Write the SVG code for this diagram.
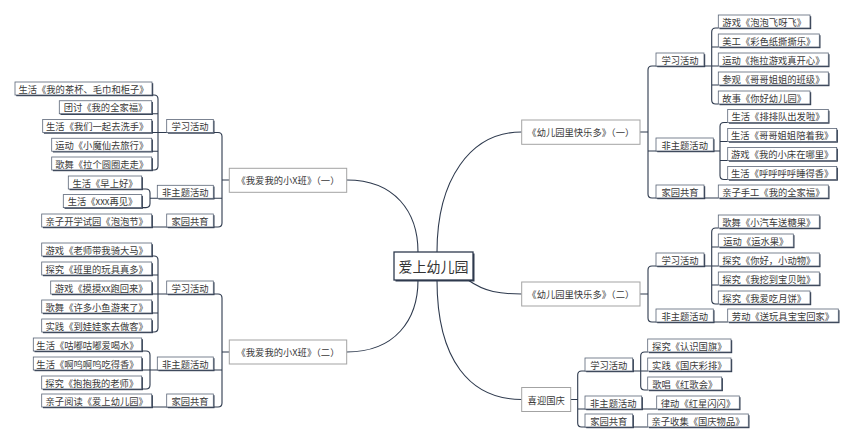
<svg xmlns="http://www.w3.org/2000/svg" width="854" height="443" viewBox="0 0 854 443">
<style>
.sh{fill:#2e3a4e}
.bx{fill:#fff;stroke:#5b6577;stroke-width:0.8}
.mn{fill:#fff;stroke:#a3a3a3;stroke-width:1}
.t{font-family:"Noto Sans CJK SC","Noto Sans",sans-serif;font-size:9.3px;fill:#3a3a3a;text-anchor:middle;dominant-baseline:central}
.rt{font-family:"Noto Sans CJK SC","Noto Sans",sans-serif;font-size:14px;fill:#333;text-anchor:middle;dominant-baseline:central}
.c{fill:none;stroke:#2e3a4e;stroke-width:1.1}
</style>
<rect width="854" height="443" fill="#fff"/>
<g id="connectors" class="c">
<path d="M346.7,180 C395,180 418,212 418,252"/>
<path d="M346.7,352 C395,352 418,320 418,280"/>
<path d="M437,252 C437,180 470,132 521.7,132"/>
<path d="M468,280 C485,292 500,294 521.7,294"/>
<path d="M437,280 C437,360 470,399.5 521.7,399.5"/>
<path d="M152,95 H154 Q158,95 158,99 V166 Q158,170 154,170 H152 M152,113.75 H158 M152,132.5 H158 M152,151.25 H158"/>
<path d="M141.7,189 H146 Q150,189 150,193 V203.6 Q150,207.6 146,207.6 H141.7"/>
<path d="M158,132.5 H218 Q222,132.5 222,136.5 V223 Q222,227 218,227 H151.7 M150,198.3 H222 M222,180 H229.3"/>
<path d="M151.7,256 H154 Q158,256 158,260 V328 Q158,332 154,332 H151.7 M151.7,275 H158 M151.7,294 H158 M151.7,313 H158"/>
<path d="M141.7,351 H146 Q150,351 150,355 V385 Q150,389 146,389 H141.7 M141.7,370 H150"/>
<path d="M158,294 H218 Q222,294 222,298 V403 Q222,407 218,407 H151.7 M150,370 H222 M222,352 H229.3"/>
<path d="M718.3,28 H715.7 Q711.7,28 711.7,32 V100 Q711.7,104 715.7,104 H718.3 M711.7,47 H718.3 M711.7,66 H718.3 M711.7,85 H718.3"/>
<path d="M727.7,122.5 H724 Q720,122.5 720,126.5 V175.5 Q720,179.5 724,179.5 H727.7 M720,141.5 H727.7 M720,160.5 H727.7"/>
<path d="M711.7,66 H652 Q648,66 648,70 V194 Q648,198 652,198 H718.3 M648,151 H720 M640,132 H648"/>
<path d="M718.3,228 H715.7 Q711.7,228 711.7,232 V300 Q711.7,304 715.7,304 H718.3 M711.7,247 H718.3 M711.7,266 H718.3 M711.7,285 H718.3"/>
<path d="M711.7,266 H652 Q648,266 648,270 V318 Q648,322 652,322 H727.7 M640,294 H648"/>
<path d="M647.7,352 H644.7 Q640.7,352 640.7,356 V386 Q640.7,390 644.7,390 H647.7 M640.7,371 H647.7"/>
<path d="M640.7,371 H581.7 Q577.7,371 577.7,375 V423 Q577.7,427 581.7,427 H647.7 M577.7,409 H656.7 M570.7,399.5 H577.7"/>
</g>
<g id="root"><rect class="sh" x="395.5" y="253.5" width="79" height="28"/><rect x="394" y="252" width="79" height="28" fill="#fff" stroke="#2e3a4e" stroke-width="1.3"/><text class="rt" x="433.5" y="266">爱上幼儿园</text></g>
<g id="m1"><rect class="mn" x="229.3" y="168.3" width="117.4" height="24"/><text class="t" x="288" y="180.3">《我爱我的小X班》（一）</text></g>
<g id="m2"><rect class="mn" x="229.3" y="340" width="117.4" height="24"/><text class="t" x="288" y="352">《我爱我的小X班》（二）</text></g>
<g id="m3"><rect class="mn" x="521.7" y="120" width="118.3" height="24.3"/><text class="t" x="580.8" y="132.2">《幼儿园里快乐多》（一）</text></g>
<g id="m4"><rect class="mn" x="521.7" y="282" width="118.3" height="24"/><text class="t" x="580.8" y="294">《幼儿园里快乐多》（二）</text></g>
<g id="m5"><rect class="mn" x="521.7" y="387.5" width="49" height="24"/><text class="t" x="546.2" y="399.5">喜迎国庆</text></g>

<g id="l1a"><rect class="sh" x="16.2" y="83.2" width="137" height="13"/><rect class="bx" x="15" y="82" width="137" height="13"/><text class="t" x="83.5" y="88.5">生活《我的茶杯、毛巾和柜子》</text></g>
<g id="l1b"><rect class="sh" x="60.5" y="101.95" width="92.4" height="13"/><rect class="bx" x="59.3" y="100.75" width="92.4" height="13"/><text class="t" x="105.5" y="107.25">团讨《我的全家福》</text></g>
<g id="l1c"><rect class="sh" x="43.9" y="120.7" width="109" height="13"/><rect class="bx" x="42.7" y="119.5" width="109" height="13"/><text class="t" x="97.2" y="126">生活《我们一起去洗手》</text></g>
<g id="l1d"><rect class="sh" x="52.9" y="139.45" width="100" height="13"/><rect class="bx" x="51.7" y="138.25" width="100" height="13"/><text class="t" x="101.7" y="144.75">运动《小魔仙去旅行》</text></g>
<g id="l1e"><rect class="sh" x="52.9" y="158.2" width="100" height="13"/><rect class="bx" x="51.7" y="157" width="100" height="13"/><text class="t" x="101.7" y="163.5">歌舞《拉个圆圈走走》</text></g>
<g id="l1s"><rect class="sh" x="167.9" y="120.7" width="46.6" height="13"/><rect class="bx" x="166.7" y="119.5" width="46.6" height="13"/><text class="t" x="190" y="126">学习活动</text></g>
<g id="l1f"><rect class="sh" x="69.5" y="177.2" width="73.4" height="13"/><rect class="bx" x="68.3" y="176" width="73.4" height="13"/><text class="t" x="105" y="182.5">生活《早上好》</text></g>
<g id="l1g"><rect class="sh" x="64.5" y="195.8" width="78.4" height="13"/><rect class="bx" x="63.3" y="194.6" width="78.4" height="13"/><text class="t" x="102.5" y="201.1">生活《xxx再见》</text></g>
<g id="l1n"><rect class="sh" x="158.5" y="186.5" width="56" height="13"/><rect class="bx" x="157.3" y="185.3" width="56" height="13"/><text class="t" x="185.3" y="191.8">非主题活动</text></g>
<g id="l1h"><rect class="sh" x="42.9" y="215.2" width="110" height="13"/><rect class="bx" x="41.7" y="214" width="110" height="13"/><text class="t" x="96.7" y="220.5">亲子开学试园《泡泡节》</text></g>
<g id="l1j"><rect class="sh" x="167.9" y="215.2" width="46.6" height="13"/><rect class="bx" x="166.7" y="214" width="46.6" height="13"/><text class="t" x="190" y="220.5">家园共育</text></g>

<g id="l2a"><rect class="sh" x="42.9" y="244.2" width="110" height="13"/><rect class="bx" x="41.7" y="243" width="110" height="13"/><text class="t" x="96.7" y="249.5">游戏《老师带我骑大马》</text></g>
<g id="l2b"><rect class="sh" x="42.9" y="263.2" width="110" height="13"/><rect class="bx" x="41.7" y="262" width="110" height="13"/><text class="t" x="96.7" y="268.5">探究《班里的玩具真多》</text></g>
<g id="l2c"><rect class="sh" x="51.9" y="282.2" width="101" height="13"/><rect class="bx" x="50.7" y="281" width="101" height="13"/><text class="t" x="101.2" y="287.5">游戏《摸摸xx跑回来》</text></g>
<g id="l2d"><rect class="sh" x="42.9" y="301.2" width="110" height="13"/><rect class="bx" x="41.7" y="300" width="110" height="13"/><text class="t" x="96.7" y="306.5">歌舞《许多小鱼游来了》</text></g>
<g id="l2e"><rect class="sh" x="42.9" y="320.2" width="110" height="13"/><rect class="bx" x="41.7" y="319" width="110" height="13"/><text class="t" x="96.7" y="325.5">实践《到娃娃家去做客》</text></g>
<g id="l2s"><rect class="sh" x="167.9" y="282.2" width="46.6" height="13"/><rect class="bx" x="166.7" y="281" width="46.6" height="13"/><text class="t" x="190" y="287.5">学习活动</text></g>
<g id="l2f"><rect class="sh" x="34.5" y="339.2" width="108.4" height="13"/><rect class="bx" x="33.3" y="338" width="108.4" height="13"/><text class="t" x="87.5" y="344.5">生活《咕嘟咕嘟爱喝水》</text></g>
<g id="l2g"><rect class="sh" x="34.5" y="358.2" width="108.4" height="13"/><rect class="bx" x="33.3" y="357" width="108.4" height="13"/><text class="t" x="87.5" y="363.5">生活《啊呜啊呜吃得香》</text></g>
<g id="l2h"><rect class="sh" x="42.9" y="377.2" width="100" height="13"/><rect class="bx" x="41.7" y="376" width="100" height="13"/><text class="t" x="91.7" y="382.5">探究《抱抱我的老师》</text></g>
<g id="l2n"><rect class="sh" x="158.5" y="358.2" width="56" height="13"/><rect class="bx" x="157.3" y="357" width="56" height="13"/><text class="t" x="185.3" y="363.5">非主题活动</text></g>
<g id="l2i"><rect class="sh" x="42.9" y="395.2" width="110" height="13"/><rect class="bx" x="41.7" y="394" width="110" height="13"/><text class="t" x="96.7" y="400.5">亲子阅读《爱上幼儿园》</text></g>
<g id="l2j"><rect class="sh" x="167.9" y="395.2" width="46.6" height="13"/><rect class="bx" x="166.7" y="394" width="46.6" height="13"/><text class="t" x="190" y="400.5">家园共育</text></g>

<g id="r1a"><rect class="sh" x="719.5" y="16.2" width="91.7" height="13"/><rect class="bx" x="718.3" y="15" width="91.7" height="13"/><text class="t" x="764.2" y="21.5">游戏《泡泡飞呀飞》</text></g>
<g id="r1b"><rect class="sh" x="719.5" y="35.2" width="101" height="13"/><rect class="bx" x="718.3" y="34" width="101" height="13"/><text class="t" x="768.8" y="40.5">美工《彩色纸撕撕乐》</text></g>
<g id="r1c"><rect class="sh" x="719.5" y="54.2" width="110" height="13"/><rect class="bx" x="718.3" y="53" width="110" height="13"/><text class="t" x="773.3" y="59.5">运动《拖拉游戏真开心》</text></g>
<g id="r1d"><rect class="sh" x="719.5" y="73.2" width="110" height="13"/><rect class="bx" x="718.3" y="72" width="110" height="13"/><text class="t" x="773.3" y="78.5">参观《哥哥姐姐的班级》</text></g>
<g id="r1e"><rect class="sh" x="719.5" y="92.2" width="91.7" height="13"/><rect class="bx" x="718.3" y="91" width="91.7" height="13"/><text class="t" x="764.2" y="97.5">故事《你好幼儿园》</text></g>
<g id="r1s"><rect class="sh" x="657.2" y="54.2" width="48" height="13"/><rect class="bx" x="656" y="53" width="48" height="13"/><text class="t" x="680" y="59.5">学习活动</text></g>
<g id="r1f"><rect class="sh" x="728.9" y="110.7" width="100.6" height="13"/><rect class="bx" x="727.7" y="109.5" width="100.6" height="13"/><text class="t" x="778" y="116">生活《排排队出发啦》</text></g>
<g id="r1g"><rect class="sh" x="728.9" y="129.7" width="109" height="13"/><rect class="bx" x="727.7" y="128.5" width="109" height="13"/><text class="t" x="782.2" y="135">生活《哥哥姐姐陪着我》</text></g>
<g id="r1h"><rect class="sh" x="728.9" y="148.7" width="109" height="13"/><rect class="bx" x="727.7" y="147.5" width="109" height="13"/><text class="t" x="782.2" y="154">游戏《我的小床在哪里》</text></g>
<g id="r1i"><rect class="sh" x="728.9" y="167.7" width="109" height="13"/><rect class="bx" x="727.7" y="166.5" width="109" height="13"/><text class="t" x="782.2" y="173">生活《呼呼呼呼睡得香》</text></g>
<g id="r1n"><rect class="sh" x="657.2" y="139.2" width="57.3" height="13"/><rect class="bx" x="656" y="138" width="57.3" height="13"/><text class="t" x="684.7" y="144.5">非主题活动</text></g>
<g id="r1j"><rect class="sh" x="657.2" y="186.2" width="48" height="13"/><rect class="bx" x="656" y="185" width="48" height="13"/><text class="t" x="680" y="191.5">家园共育</text></g>
<g id="r1k"><rect class="sh" x="719.5" y="186.2" width="110" height="13"/><rect class="bx" x="718.3" y="185" width="110" height="13"/><text class="t" x="773.3" y="191.5">亲子手工《我的全家福》</text></g>

<g id="r2a"><rect class="sh" x="719.5" y="216.2" width="101" height="13"/><rect class="bx" x="718.3" y="215" width="101" height="13"/><text class="t" x="768.8" y="221.5">歌舞《小汽车送糖果》</text></g>
<g id="r2b"><rect class="sh" x="719.5" y="235.2" width="75" height="13"/><rect class="bx" x="718.3" y="234" width="75" height="13"/><text class="t" x="755.8" y="240.5">运动《运水果》</text></g>
<g id="r2c"><rect class="sh" x="719.5" y="254.2" width="101" height="13"/><rect class="bx" x="718.3" y="253" width="101" height="13"/><text class="t" x="768.8" y="259.5">探究《你好，小动物》</text></g>
<g id="r2d"><rect class="sh" x="719.5" y="273.2" width="101" height="13"/><rect class="bx" x="718.3" y="272" width="101" height="13"/><text class="t" x="768.8" y="278.5">探究《我挖到宝贝啦》</text></g>
<g id="r2e"><rect class="sh" x="719.5" y="292.2" width="91.7" height="13"/><rect class="bx" x="718.3" y="291" width="91.7" height="13"/><text class="t" x="764.2" y="297.5">探究《我爱吃月饼》</text></g>
<g id="r2s"><rect class="sh" x="657.2" y="254.2" width="48" height="13"/><rect class="bx" x="656" y="253" width="48" height="13"/><text class="t" x="680" y="259.5">学习活动</text></g>
<g id="r2n"><rect class="sh" x="657.2" y="310.2" width="57.3" height="13"/><rect class="bx" x="656" y="309" width="57.3" height="13"/><text class="t" x="684.7" y="315.5">非主题活动</text></g>
<g id="r2f"><rect class="sh" x="728.9" y="310.2" width="110.6" height="13"/><rect class="bx" x="727.7" y="309" width="110.6" height="13"/><text class="t" x="783" y="315.5">劳动《送玩具宝宝回家》</text></g>

<g id="r3a"><rect class="sh" x="648.9" y="340.2" width="83.3" height="13"/><rect class="bx" x="647.7" y="339" width="83.3" height="13"/><text class="t" x="689.3" y="345.5">探究《认识国旗》</text></g>
<g id="r3b"><rect class="sh" x="648.9" y="359.2" width="83.3" height="13"/><rect class="bx" x="647.7" y="358" width="83.3" height="13"/><text class="t" x="689.3" y="364.5">实践《国庆彩排》</text></g>
<g id="r3c"><rect class="sh" x="648.9" y="378.2" width="74" height="13"/><rect class="bx" x="647.7" y="377" width="74" height="13"/><text class="t" x="684.7" y="383.5">歌唱《红歌会》</text></g>
<g id="r3s"><rect class="sh" x="586.2" y="359.2" width="47.7" height="13"/><rect class="bx" x="585" y="358" width="47.7" height="13"/><text class="t" x="608.8" y="364.5">学习活动</text></g>
<g id="r3n"><rect class="sh" x="586.2" y="397.2" width="56.7" height="13"/><rect class="bx" x="585" y="396" width="56.7" height="13"/><text class="t" x="613.3" y="402.5">非主题活动</text></g>
<g id="r3d"><rect class="sh" x="657.9" y="397.2" width="82.6" height="13"/><rect class="bx" x="656.7" y="396" width="82.6" height="13"/><text class="t" x="698" y="402.5">律动《红星闪闪》</text></g>
<g id="r3j"><rect class="sh" x="586.2" y="415.2" width="47.7" height="13"/><rect class="bx" x="585" y="414" width="47.7" height="13"/><text class="t" x="608.8" y="420.5">家园共育</text></g>
<g id="r3e"><rect class="sh" x="648.9" y="415.2" width="100.6" height="13"/><rect class="bx" x="647.7" y="414" width="100.6" height="13"/><text class="t" x="698" y="420.5">亲子收集《国庆物品》</text></g>
</svg>
